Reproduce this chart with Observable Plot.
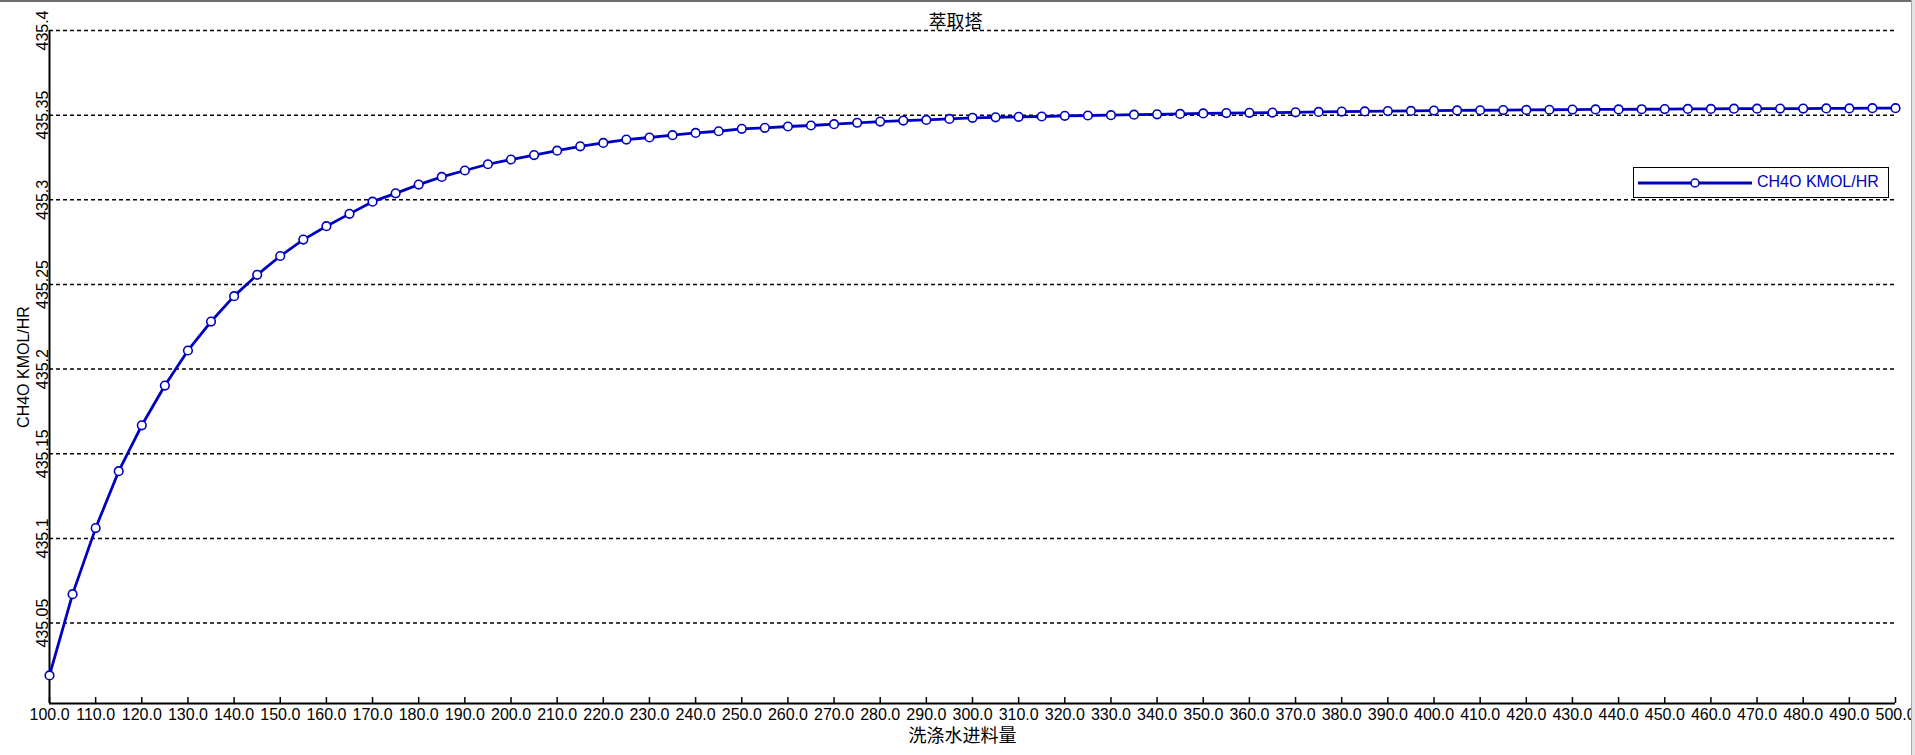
<!DOCTYPE html>
<html>
<head>
<meta charset="utf-8">
<script src="https://cdn.jsdelivr.net/npm/d3@7"></script>
<script src="https://cdn.jsdelivr.net/npm/@observablehq/plot@0.6"></script>
<style>
  html, body { margin: 0; padding: 0; background: #fff; }
  #wrap { position: relative; width: 1915px; height: 755px; overflow: hidden; }
  #topline { position: absolute; left: 0; top: 0; width: 1915px; height: 2px; background: #6e6e6e; }
  #rightline { position: absolute; right: 0; top: 0; width: 3px; height: 755px; background: #e4e4e4; border-left: 1px solid #a8a8a8; }
  #legend { position: absolute; left: 1633px; top: 167px; width: 256px; height: 31px; border: 1.5px solid #000; background: #fff; box-sizing: border-box; }
  #legend svg { position: absolute; left: 0; top: 0; }
  #legend span { position: absolute; left: 123px; top: 5px; font: 16px "Liberation Sans", Arial, sans-serif; color: #0000c0; white-space: nowrap; }
</style>
</head>
<body>
<div id="wrap">
  <div id="chart"></div>
  <div id="legend">
    <svg width="125" height="30"><line x1="4" x2="118" y1="15" y2="15" stroke="#0000c0" stroke-width="2.8"></line><circle cx="61" cy="15" r="4" fill="#fff" stroke="#0000c0" stroke-width="1.5"></circle></svg>
    <span>CH4O KMOL/HR</span>
  </div>
  <div id="topline"></div>
  <div id="rightline"></div>
</div>
<script>
const title = "萃取塔";
const xLabel = "洗涤水进料量";
const yLabel = "CH4O KMOL/HR";

const feed = [100,105,110,115,120,125,130,135,140,145,150,155,160,165,170,175,180,185,190,195,
  200,205,210,215,220,225,230,235,240,245,250,255,260,265,270,275,280,285,290,295,
  300,305,310,315,320,325,330,335,340,345,350,355,360,365,370,375,380,385,390,395,
  400,405,410,415,420,425,430,435,440,445,450,455,460,465,470,475,480,485,490,495,500];

const ch4o = [435.0191,435.0671,435.1061,435.1397,435.1668,435.1903,435.2110,435.2281,435.2431,435.2557,
  435.2668,435.2765,435.2844,435.2917,435.2989,435.3038,435.3090,435.3135,435.3173,435.3210,
  435.3238,435.3264,435.3290,435.3316,435.3336,435.3356,435.3368,435.3382,435.3395,435.3405,
  435.3419,435.3425,435.3433,435.3439,435.3447,435.3455,435.3462,435.3468,435.3472,435.3478,
  435.3484,435.3487,435.3490,435.3492,435.3496,435.3498,435.3500,435.3503,435.3505,435.3507,
  435.3510,435.3512,435.3514,435.3515,435.3517,435.3519,435.3521,435.3522,435.3524,435.3525,
  435.3527,435.3528,435.3529,435.3530,435.3531,435.3532,435.3533,435.3534,435.3534,435.3535,
  435.3536,435.3537,435.3537,435.3538,435.3538,435.3539,435.3539,435.3540,435.3540,435.3541,435.3541];

const xTicks = [100,110,120,130,140,150,160,170,180,190,200,210,220,230,240,250,260,270,280,290,
  300,310,320,330,340,350,360,370,380,390,400,410,420,430,440,450,460,470,480,490,500];
const yTicks = [435.05,435.1,435.15,435.2,435.25,435.3,435.35,435.4];
const xDomain = [100, 500];
const yDomain = [435.0025, 435.4];

const data = feed.map((x, i) => ({x, y: ch4o[i]}));

const W = 1915, H = 755, mT = 30, mB = 52, mL = 49, mR = 20;
const blue = "#0000c0";
const latin = "'Liberation Sans', Arial, sans-serif";
const cjk = "'Noto Sans CJK SC', sans-serif";

const chart = Plot.plot({
  width: W, height: H,
  marginTop: mT, marginBottom: mB, marginLeft: mL, marginRight: mR,
  x: {domain: xDomain, axis: null},
  y: {domain: yDomain, axis: null},
  style: {fontFamily: latin, fontSize: "16px", background: "#fff", color: "#000"},
  marks: [
    Plot.gridY(yTicks, {stroke: "#000", strokeOpacity: 1, strokeWidth: 1.5, strokeDasharray: "4,3"}),
    Plot.axisX(xTicks, {tickSize: 0, tickPadding: 5, tickFormat: d => d.toFixed(1), fontSize: 16, label: null}),
    Plot.tickX(xTicks, {x: d => d, insetTop: H - mT - mB - 6, stroke: "#000", strokeWidth: 1.5}),
    Plot.ruleY([yDomain[0]], {stroke: "#000", strokeWidth: 2}),
    Plot.ruleX([xDomain[0]], {stroke: "#000", strokeWidth: 2}),
    Plot.text(yTicks, {y: d => d, text: d => String(+d.toFixed(2)), frameAnchor: "left", dx: -2,
      rotate: -90, lineAnchor: "bottom", textAnchor: "middle", fontSize: 16, fill: "#000"}),
    Plot.text([yLabel], {frameAnchor: "left", dx: -21, rotate: -90, lineAnchor: "bottom",
      textAnchor: "middle", fontSize: 16, fill: "#000"}),
    Plot.text([title], {frameAnchor: "top", dy: -15, dx: -17, fontSize: 18, fontFamily: cjk, fill: "#000"}),
    Plot.text([xLabel], {frameAnchor: "bottom", dy: 38, dx: -10, fontSize: 18, fontFamily: cjk, fill: "#000"}),
    Plot.line(data, {x: "x", y: "y", stroke: blue, strokeWidth: 2.8}),
    Plot.dot(data, {x: "x", y: "y", r: 4.3, fill: "#fff", stroke: blue, strokeWidth: 1.6})
  ]
});
document.getElementById("chart").appendChild(chart);
</script>
</body>
</html>
